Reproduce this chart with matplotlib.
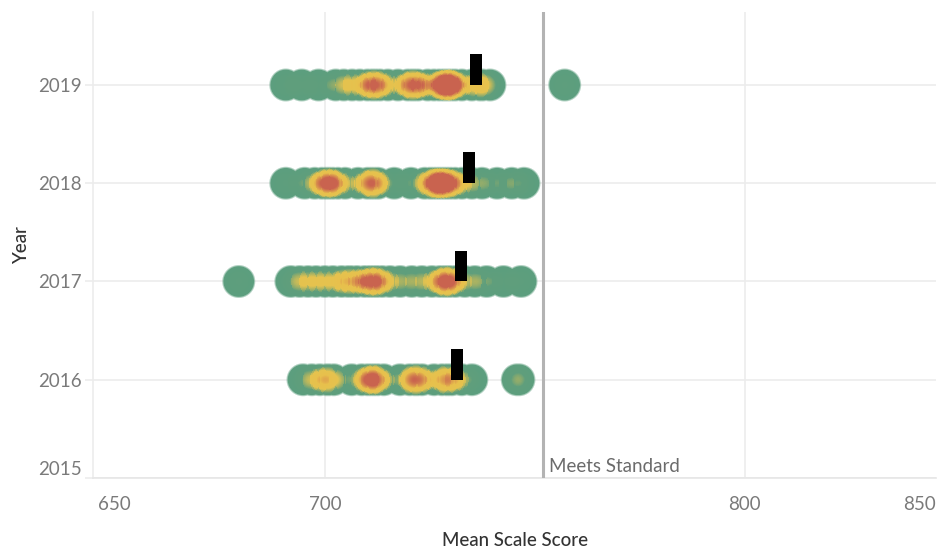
import numpy as np
import matplotlib
matplotlib.use("Agg")
import matplotlib.pyplot as plt
from matplotlib.colors import LinearSegmentedColormap

# ---------------- data ----------------
years = [2016, 2017, 2018, 2019]
scores_2016 = [694.8, 696.9, 698.8, 700.5, 701.0, 702.1, 706.4, 708.8, 710.2, 710.8,
               711.4, 711.9, 712.6, 714.0, 717.9, 720.2, 721.4, 721.7, 722.1, 723.1,
               726.0, 727.9, 729.0, 729.5, 730.2, 732.6, 735.0, 745.8, 746.2]
scores_2017 = [679.5, 691.9, 694.0, 696.0, 697.9, 700.0, 701.9, 704.0, 705.6, 706.2,
               707.6, 709.5, 710.5, 711.2, 711.9, 712.5, 713.6, 715.5,
               717.9, 720.7, 723.1, 725.5, 727.4, 728.3, 728.8, 729.3, 729.8, 731.0,
               733.3, 735.7, 738.5, 742.5, 746.7]
scores_2018 = [690.7, 695.2, 697.6, 699.3, 700.2, 700.7, 701.3, 701.9, 703.1, 704.8,
               707.9, 710.2, 710.9, 711.4, 712.1, 712.6, 716.5, 720.5, 723.8,
               725.0, 725.5, 726.2, 726.9, 727.5, 728.1, 728.7, 729.3, 730.0, 731.0,
               732.6, 735.0, 737.4, 741.0, 744.5, 747.4]
scores_2019 = [690.7, 694.5, 698.5, 702.6, 704.5, 706.5, 708.3, 710.2, 711.2,
               711.7, 712.3, 713.1, 715.0, 717.4, 719.8, 720.6, 721.0, 721.5, 722.1,
               724.5, 726.0, 727.2, 728.1, 728.6, 729.0, 729.4, 729.8, 730.5, 731.0,
               732.6, 735.0, 737.0, 737.5, 739.3, 757.1]
year_scores = {2016: scores_2016, 2017: scores_2017, 2018: scores_2018, 2019: scores_2019}
mean_scores = [731.4, 732.4, 734.3, 736.0]
meets_standard = 752
x_ticks = [650, 700, 800]
x_grid = [700, 800]
x_end_label = "850"
y_ticks = [2015, 2016, 2017, 2018, 2019]

# ---------------- figure ----------------
FW, FH = 939, 549
fig = plt.figure(figsize=(FW / 100, FH / 100), dpi=100)
ax = fig.add_axes([93 / FW, 71 / FH, (936 - 93) / FW, (478 - 12) / FH])
ax.set_xlim(644.8, 845.5)
ax.set_ylim(2015, 2019.743)

FAM = ['Lato', 'DejaVu Sans']
plt.rcParams['font.family'] = FAM
tick_color = '#7a7a7a'
grid_color = '#ececec'

# grid & spines
ax.set_yticks(y_ticks)
ax.set_yticklabels([str(y) for y in y_ticks], family=FAM)
ax.grid(axis='y', color=grid_color, lw=1.2, zorder=0)
for gx in x_grid:
    ax.axvline(gx, color=grid_color, lw=1.2, zorder=0)
ax.set_xticks(x_ticks)
ax.set_xticklabels([str(x) for x in x_ticks], family=FAM)
for s in ['top', 'right']:
    ax.spines[s].set_visible(False)
ax.spines['left'].set_color(grid_color)
ax.spines['bottom'].set_color('#e6e6e6')
ax.spines['left'].set_linewidth(1.2)
ax.spines['bottom'].set_linewidth(1.2)
ax.tick_params(axis='y', length=6, color=grid_color, width=1.2, pad=2,
               labelsize=13.5, labelcolor=tick_color)
ax.tick_params(axis='x', length=0, pad=13, labelsize=13.5, labelcolor=tick_color)
for lab in ax.get_yticklabels():
    if lab.get_text() == '2015':
        lab.set_verticalalignment('bottom')

ax.annotate(x_end_label, xy=(1, 0), xycoords='axes fraction', xytext=(0, -13),
            textcoords='offset points', ha='right', va='top', fontsize=13.5,
            color=tick_color, family=FAM)

ax.set_xlabel('Mean Scale Score', fontsize=13.5, color='#333333', labelpad=14,
              family=FAM, weight='medium')
ax.set_ylabel('Year', fontsize=13.5, color='#333333', labelpad=6,
              family=FAM, weight='medium')

# ---------------- density marks ----------------
tmax = 7.0
cmap = LinearSegmentedColormap.from_list('dens', [
    (0.0, '#5b9e7f'), (1.6 / tmax, '#609f7c'), (2.6 / tmax, '#e5c34f'),
    (3.6 / tmax, '#e8c04c'), (5.0 / tmax, '#c9644f'), (1.0, '#c9634f')])
R = 16.0
sig = 10.5

fig.canvas.draw()
bb = ax.get_window_extent()
x0, y0 = bb.x0, bb.y0
nx, ny = int(round(bb.width)), int(round(bb.height))
pxs = x0 + np.arange(nx) + 0.5
pys = y0 + np.arange(ny) + 0.5
D = np.zeros((ny, nx))
C = np.zeros((ny, nx))
for yr in years:
    sc = np.asarray(year_scores[yr], float)
    pts = ax.transData.transform(np.column_stack([sc, np.full(len(sc), yr)]))
    for cx, cy in pts:
        ix0 = max(0, int(cx - x0 - R - 4)); ix1 = min(nx, int(cx - x0 + R + 5))
        iy0 = max(0, int(cy - y0 - R - 4)); iy1 = min(ny, int(cy - y0 + R + 5))
        dx = pxs[ix0:ix1] - cx
        dy = pys[iy0:iy1] - cy
        r = np.sqrt(dy[:, None] ** 2 + dx[None, :] ** 2)
        D[iy0:iy1, ix0:ix1] += np.where(r <= R + 1, np.exp(-r ** 2 / (2 * sig ** 2)), 0)
        C[iy0:iy1, ix0:ix1] = np.maximum(C[iy0:iy1, ix0:ix1],
                                         np.clip((R + 1.0 - r) / 2.2, 0, 1))
rgba = cmap(np.clip(D / tmax, 0, 1))
rgba[..., 3] = C
ax.imshow(rgba, extent=(*ax.get_xlim(), *ax.get_ylim()), origin='lower',
          interpolation='nearest', aspect='auto', zorder=2)

# mean markers
ax.bar(mean_scores, 0.315, width=2.86, bottom=years, color='black', zorder=4)

# meets standard reference line
ax.axvline(meets_standard, color='#b3b3b3', lw=2.2, zorder=3)
ax.annotate('Meets Standard', xy=(meets_standard, 2015), xycoords='data',
            xytext=(4, 2), textcoords='offset points', ha='left', va='bottom',
            fontsize=13.5, color='#6b6b6b', family=FAM)

ax.set_xlim(644.8, 845.5)
ax.set_ylim(2015, 2019.743)
fig.savefig('out.png', dpi=100)
